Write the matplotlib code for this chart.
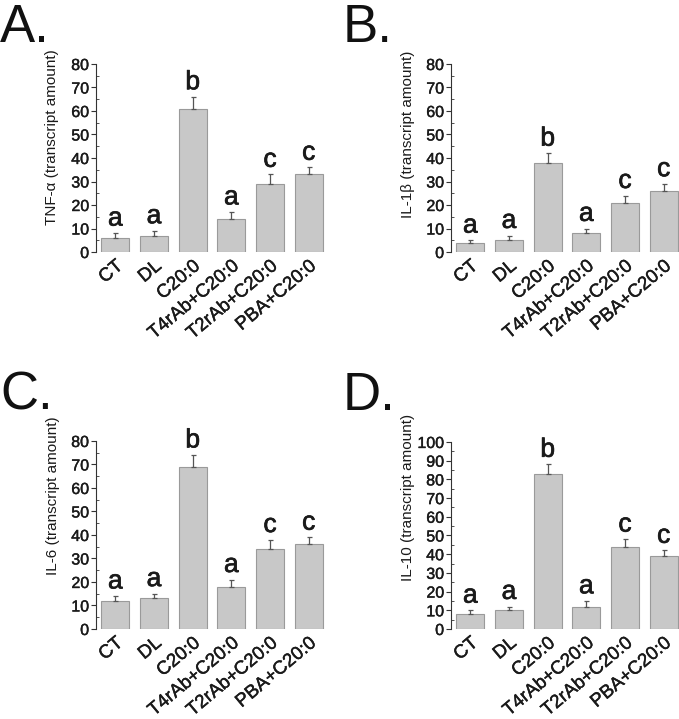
import numpy as np
import matplotlib
matplotlib.use("Agg")
import matplotlib.pyplot as plt
import matplotlib.patheffects as pe
from matplotlib.ticker import MultipleLocator

plt.rcParams['font.family'] = ['Liberation Sans', 'DejaVu Sans']

groups = ["CT", "DL", "C20:0", "T4rAb+C20:0", "T2rAb+C20:0", "PBA+C20:0"]

# bar heights and upper error (mean + sd)
tnf = [6, 7, 61, 14, 29, 33]
tnf_top = [8, 9, 66, 17, 33, 36]
il1b = [4, 5, 38, 8, 21, 26]
il1b_top = [5, 7, 42, 10, 24, 29]
il6 = [12, 13, 69, 18, 34, 36]
il6_top = [14, 15, 74, 21, 38, 39]
il10 = [8, 10, 83, 12, 44, 39]
il10_top = [10, 12, 88, 15, 48, 42]

letters = ["a", "a", "b", "a", "c", "c"]

panels = [
    ("A.", "TNF-\u03b1 (transcript amount)", tnf, tnf_top, 80),
    ("B.", "IL-1\u03b2 (transcript amount)", il1b, il1b_top, 80),
    ("C.", "IL-6 (transcript amount)", il6, il6_top, 80),
    ("D.", "IL-10 (transcript amount)", il10, il10_top, 100),
]

# axes rectangles in figure fractions
rects = [
    [0.1414, 0.6495, 0.3389, 0.2615],
    [0.6642, 0.6495, 0.3389, 0.2615],
    [0.1414, 0.1252, 0.3389, 0.2615],
    [0.6642, 0.1252, 0.3389, 0.2601],
]
label_pos = [(0.0, 0.9416), (0.505, 0.9416), (0.0, 0.4298), (0.505, 0.4298)]
ylab_coords = [(-0.191, 0.61), (-0.187, 0.628), (-0.187, 0.707), (-0.187, 0.706)]

txt = "#1a1a1a"
heavy = [pe.withStroke(linewidth=0.5, foreground=txt)]
fig = plt.figure(figsize=(6.79, 7.19), dpi=100)

for i, (tag, ylab, vals, tops, ymax) in enumerate(panels):
    ax = fig.add_axes(rects[i])
    x = np.arange(len(groups))
    err = np.array(tops) - np.array(vals)
    ax.bar(x, vals, width=0.72, color="#c8c8c8", edgecolor="#9a9a9a", linewidth=0.8,
           yerr=[np.zeros(len(vals)), err], capsize=1.8,
           error_kw=dict(ecolor="#555555", elinewidth=0.9, capthick=0.9))
    for xi, t, l in zip(x, tops, letters):
        ax.annotate(l, (xi, t), xytext=(0, 5.5), textcoords="offset points",
                    ha="center", va="baseline", fontsize=19, color=txt,
                    path_effects=heavy)
    ax.set_xlim(-0.5, 5.45)
    ax.set_ylim(0, ymax)
    ax.yaxis.set_major_locator(MultipleLocator(10))
    ax.yaxis.set_minor_locator(MultipleLocator(5))
    ax.tick_params(axis="y", which="major", direction="out", length=3.5, width=0.8,
                   labelsize=11.5, colors="#333333", labelcolor=txt, pad=1.5)
    ax.tick_params(axis="y", which="minor", direction="in", length=2, width=0.6,
                   colors="#333333")
    ax.tick_params(axis="x", length=0, labelsize=13.5, labelcolor=txt, pad=4)
    ax.set_xticks(x)
    ax.set_xticklabels(groups, rotation=40, ha="right", rotation_mode="anchor")
    for lab in ax.get_xticklabels() + ax.get_yticklabels():
        lab.set_path_effects([pe.withStroke(linewidth=0.3, foreground=txt)])
    for s in ["top", "right", "bottom"]:
        ax.spines[s].set_visible(False)
    ax.spines["left"].set_color("#333333")
    ax.spines["left"].set_linewidth(0.8)
    ax.set_ylabel(ylab, fontsize=11, color=txt, va="center", ha="center")
    ax.yaxis.set_label_coords(*ylab_coords[i])
    fig.text(label_pos[i][0], label_pos[i][1], tag, fontsize=38, va="baseline",
             ha="left", color="#111111")

fig.savefig("out.png", dpi=100)
